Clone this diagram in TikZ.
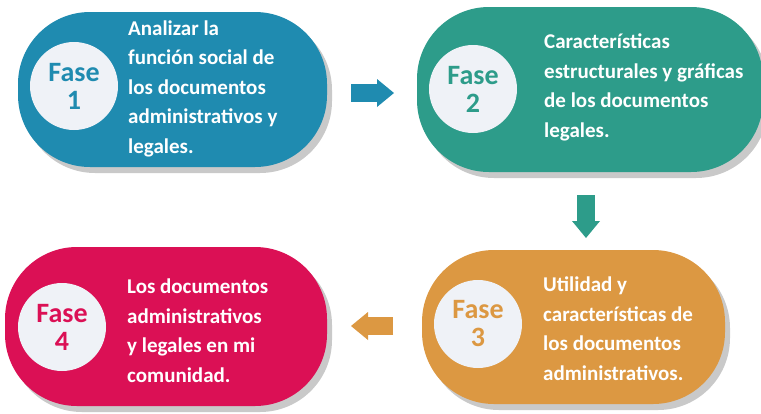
\documentclass[tikz,border=0pt]{standalone}
\usepackage{fontspec}
\setmainfont{Carlito}
\usetikzlibrary{arrows.meta}
\definecolor{fase1}{HTML}{1F8BB0}
\definecolor{fase2}{HTML}{2D9C8A}
\definecolor{fase3}{HTML}{DC9842}
\definecolor{fase4}{HTML}{DB1055}
\definecolor{gris}{HTML}{C9C9C9}
\definecolor{claro}{HTML}{EFF2F7}
\begin{document}
\begin{tikzpicture}[x=1pt,y=-1pt,
pill/.style={rounded corners=72pt},
sombra/.style={fill=gris,rounded corners=72pt},
circ/.style={circle,fill=claro,minimum size=88pt,inner sep=0pt,align=center,
  font=\bfseries\fontsize{28}{28}\selectfont},
texto/.style={font=\bfseries\fontsize{21}{29.5}\selectfont,text=white,
  align=left,anchor=base west,inner sep=0pt},
flecha/.style={line width=18pt,-{Triangle[width=28pt,length=17pt,line width=0pt]}}]
\useasboundingbox (0,0) rectangle (761,413);
\fill[sombra] (23,18) rectangle (332,173);
\fill[sombra] (422,13) rectangle (768,178);
\fill[sombra] (427,256) rectangle (730,410);
\fill[sombra] (10,253) rectangle (332,412);
\fill[fase1,pill] (18,12) rectangle (327,167);
\fill[fase2,pill] (417,7) rectangle (763,172);
\fill[fase3,pill] (422,250) rectangle (725,404);
\fill[fase4,pill] (5,247) rectangle (327,406);
\node[circ,text=fase1] (c1) at (74,86) {Fase\\1};
\node[circ,text=fase2] (c2) at (473,89) {Fase\\2};
\node[circ,text=fase3] (c3) at (478,324) {Fase\\3};
\node[circ,text=fase4] (c4) at (62,327) {Fase\\4};
\node[texto] (t1) at (128,153) {Analizar la\\función social de\\los documentos\\administrativos y\\legales.};
\node[texto] (t2) at (544,137) {Características\\estructurales y gráficas\\de los documentos\\legales.};
\node[texto] (t3) at (543,380) {Utilidad y\\características de\\los documentos\\administrativos.};
\node[texto] (t4) at (127,382) {Los documentos\\administrativos\\y legales en mi\\comunidad.};
\coordinate (a1) at (351,93);
\coordinate (b1) at (394,93);
\coordinate (a2) at (586,195);
\coordinate (b2) at (586,238);
\coordinate (a3) at (393,326);
\coordinate (b3) at (351,326);
\draw[flecha,fase1] (a1) -- (b1);
\draw[flecha,fase2] (a2) -- (b2);
\draw[flecha,fase3] (a3) -- (b3);
\end{tikzpicture}
\end{document}
